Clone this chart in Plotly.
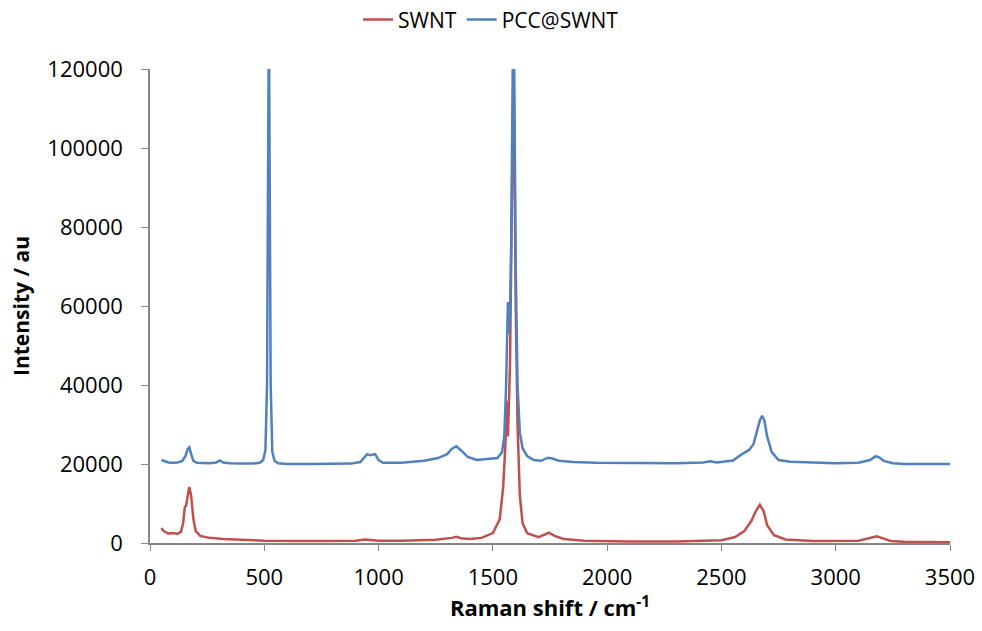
import plotly.graph_objects as go

# PCC@SWNT spectrum (blue)
pcc_x = [50, 60, 80, 100, 120, 140, 155, 165, 172, 180, 190, 205, 230, 260, 290, 305, 320, 350, 400, 450,
         480, 495, 505, 512, 517, 520, 523, 528, 535, 545, 560, 600, 700, 800, 880, 920, 940, 950, 965, 985,
         1000, 1020, 1100, 1200, 1260, 1300, 1320, 1340, 1360, 1390, 1430, 1480, 1520, 1540, 1550, 1558, 1562,
         1566, 1570, 1575, 1580, 1585, 1590, 1595, 1600, 1608, 1618, 1630, 1650, 1680, 1710, 1740, 1760, 1790,
         1850, 1950, 2100, 2300, 2420, 2450, 2480, 2550, 2590, 2620, 2640, 2655, 2668, 2678, 2688, 2700, 2720,
         2750, 2800, 2900, 3000, 3100, 3150, 3175, 3190, 3210, 3250, 3300, 3400, 3500]
pcc_y = [21000, 20800, 20400, 20300, 20400, 20700, 22000, 23800, 24200, 22500, 20800, 20300, 20200, 20200,
         20400, 20900, 20400, 20200, 20100, 20100, 20300, 21000, 23500, 40000, 100000, 135000, 100000, 40000,
         23000, 20800, 20200, 20000, 20000, 20000, 20100, 20500, 22000, 22500, 22200, 22500, 21000, 20300,
         20300, 20800, 21500, 22500, 23800, 24500, 23500, 21800, 21000, 21200, 21500, 23000, 27000, 40000,
         55000, 61000, 53000, 58000, 75000, 100000, 140000, 110000, 70000, 40000, 28000, 24000, 22000, 21000,
         20800, 21600, 21400, 20800, 20500, 20300, 20200, 20200, 20400, 20700, 20400, 20900, 22500, 23500,
         25000, 28000, 31000, 32200, 31000, 27000, 23000, 21000, 20600, 20400, 20200, 20300, 21000, 22000,
         21700, 20800, 20200, 20000, 20000, 20000]

# SWNT spectrum (red)
swnt_x = [50, 60, 80, 100, 120, 135, 145, 152, 158, 165, 172, 180, 190, 200, 220, 260, 320, 400, 500, 700,
          900, 940, 960, 1000, 1100, 1250, 1320, 1340, 1360, 1400, 1450, 1500, 1530, 1545, 1555, 1562, 1566,
          1570, 1575, 1580, 1585, 1590, 1595, 1600, 1608, 1618, 1630, 1650, 1700, 1730, 1745, 1770, 1810,
          1900, 2000, 2100, 2300, 2430, 2500, 2560, 2600, 2630, 2650, 2668, 2685, 2700, 2730, 2780, 2900,
          3100, 3150, 3180, 3200, 3240, 3300, 3400, 3500]
swnt_y = [3800, 3000, 2400, 2500, 2300, 2800, 5000, 9000, 9500, 12500, 14200, 12000, 6000, 3000, 1800, 1300,
          1000, 800, 600, 500, 600, 900, 800, 600, 600, 800, 1300, 1600, 1200, 1000, 1300, 2500, 6000, 14000,
          25000, 36000, 27000, 35000, 45000, 70000, 100000, 118000, 95000, 60000, 30000, 12000, 5000, 2500,
          1500, 2200, 2600, 1800, 1000, 600, 500, 400, 400, 600, 700, 1500, 3000, 5500, 8000, 9700, 8000,
          4500, 2000, 900, 500, 600, 1200, 1700, 1300, 500, 300, 200, 200]

x_ticks = [0, 500, 1000, 1500, 2000, 2500, 3000, 3500]
y_ticks = [0, 20000, 40000, 60000, 80000, 100000, 120000]
y_tick_labels = ["0", "20000", "40000", "60000", "80000", "100000", "120000"]

FONT = "Open Sans"

fig = go.Figure()
fig.add_trace(go.Scatter(x=swnt_x, y=swnt_y, mode="lines", name="SWNT",
                         line=dict(color="#C0504D", width=2.5)))
fig.add_trace(go.Scatter(x=pcc_x, y=pcc_y, mode="lines", name="PCC@SWNT",
                         line=dict(color="#4F81BD", width=2.5)))

fig.update_layout(
    width=982, height=631,
    paper_bgcolor="white", plot_bgcolor="white",
    margin=dict(l=150, r=32, t=69, b=88, autoexpand=False),
    font=dict(family=FONT, size=22, color="#000000"),
    legend=dict(orientation="h", xref="container", x=0.5, xanchor="center",
                yref="paper", y=1.147, yanchor="top",
                font=dict(size=21), itemwidth=30, tracegroupgap=0),
    showlegend=True,
)
fig.update_xaxes(range=[0, 3500], tickvals=x_ticks, showgrid=False, zeroline=False,
                 showline=True, linecolor="#868686", linewidth=1.5,
                 ticks="outside", ticklen=6, tickcolor="#868686", automargin=False,
                 tickfont=dict(size=22), ticklabelstandoff=8, ticklabeloverflow="allow",
                 title=dict(text="<b>Raman shift / cm<sup>-1</sup></b>", font=dict(size=22), standoff=8))
fig.update_yaxes(range=[0, 120000], tickvals=y_ticks, ticktext=y_tick_labels,
                 showgrid=False, zeroline=False,
                 showline=True, linecolor="#868686", linewidth=1.5,
                 ticks="outside", ticklen=7, tickcolor="#868686", automargin=False,
                 tickfont=dict(size=22), ticklabelstandoff=14, ticklabeloverflow="allow",
                 title=dict(text="<b>Intensity / au</b>", font=dict(size=21), standoff=12))

# remove the browser's default 8px body margin so the figure fills the window exactly
fig.write_html("out.html", config={"displayModeBar": False},
               post_script="document.body.style.margin='0';document.body.style.overflow='hidden';")
